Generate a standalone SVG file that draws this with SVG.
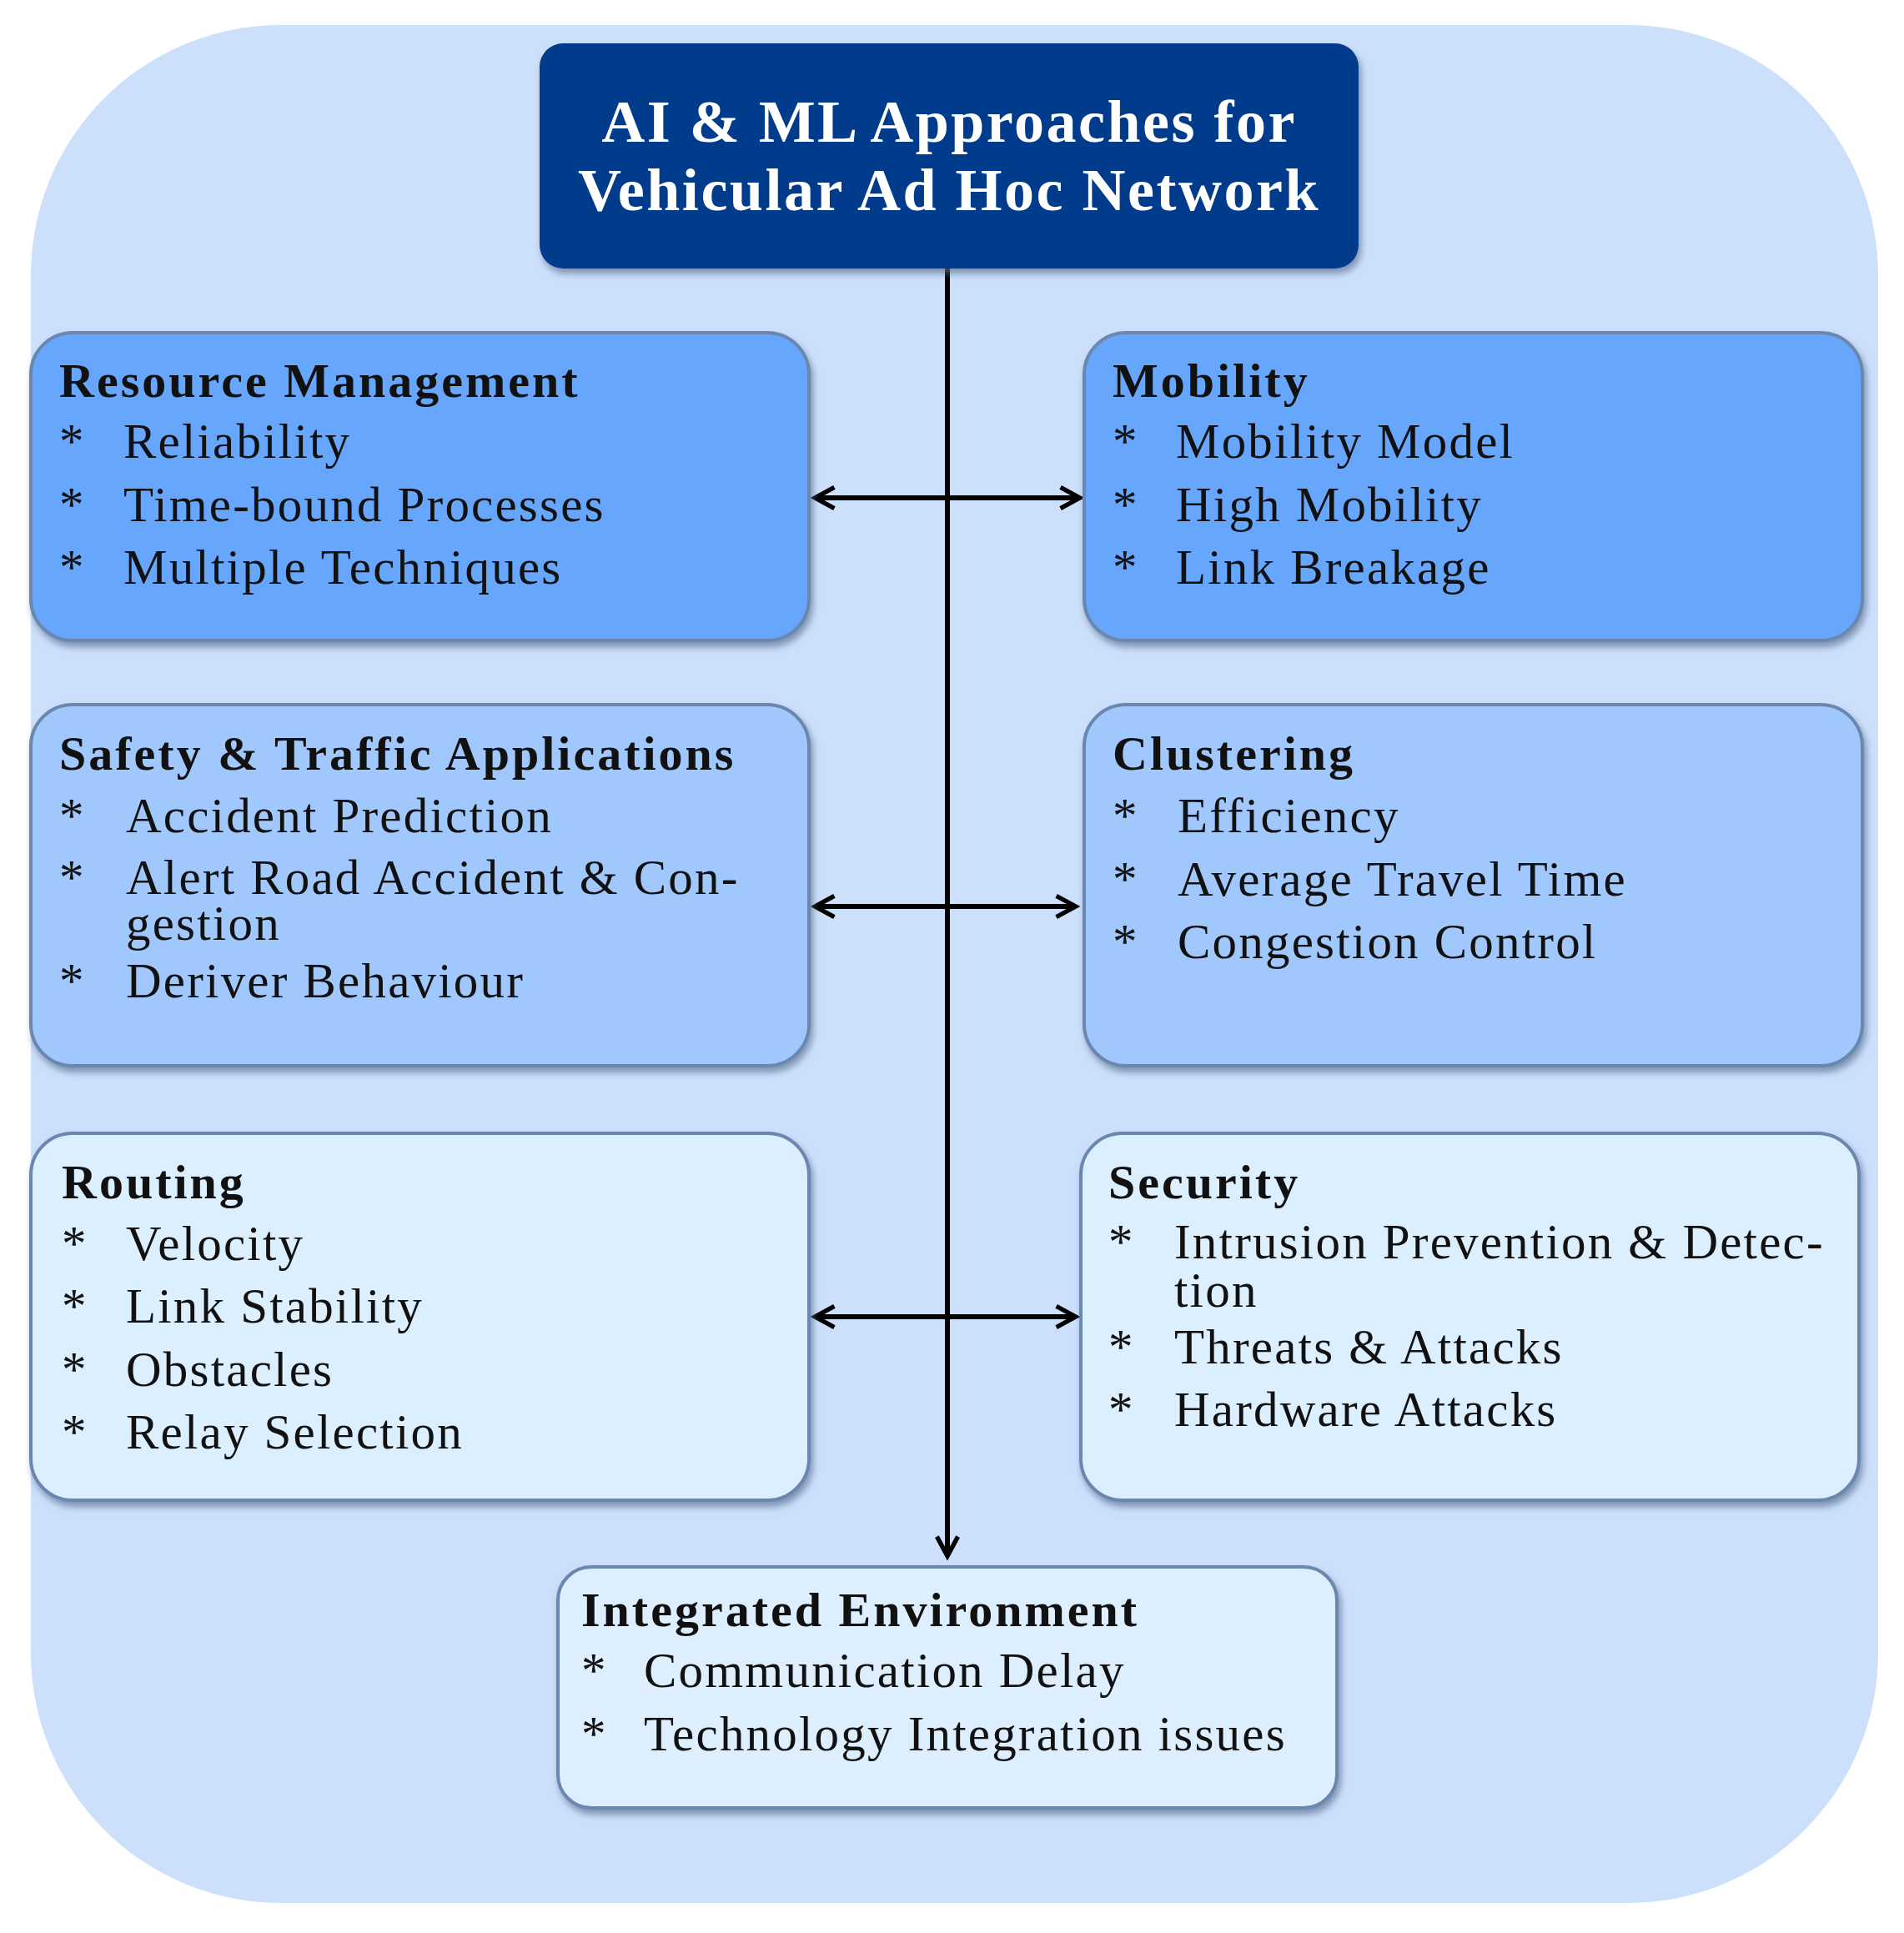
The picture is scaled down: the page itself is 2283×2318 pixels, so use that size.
<svg xmlns="http://www.w3.org/2000/svg" width="2283" height="2318" viewBox="0 0 2283 2318">
<style>
text{font-family:"Liberation Serif","Times New Roman",serif;fill:#111}
.h{font-weight:bold;font-size:58px;letter-spacing:3px}
.i{font-size:59px;letter-spacing:2.2px}
.t{font-weight:bold;font-size:72px;letter-spacing:2.5px;fill:#fff}
.box{stroke:#6a87b0;stroke-width:4}
</style>
<defs>
<filter id="sh" x="-5%" y="-5%" width="112%" height="115%"><feDropShadow dx="3" dy="6" stdDeviation="4" flood-color="#5a6f90" flood-opacity="0.7"/></filter>
<marker id="ah" viewBox="0 0 20 20" refX="17" refY="10" markerWidth="36" markerHeight="36" orient="auto-start-reverse" markerUnits="userSpaceOnUse"><path d="M4,3 L17,10 L4,17" fill="none" stroke="#000" stroke-width="3"/></marker>
</defs>
<rect width="2283" height="2318" fill="#fff"/>
<rect x="37" y="30" width="2215" height="2252" rx="300" fill="#cce0fc"/>
<g id="connectors" stroke="#000" stroke-width="6" fill="none">
<line x1="1136" y1="322" x2="1136" y2="1866" marker-end="url(#ah)"/>
<line x1="977" y1="597" x2="1295" y2="597" marker-start="url(#ah)" marker-end="url(#ah)"/>
<line x1="977" y1="1087" x2="1290" y2="1087" marker-start="url(#ah)" marker-end="url(#ah)"/>
<line x1="977" y1="1579" x2="1290" y2="1579" marker-start="url(#ah)" marker-end="url(#ah)"/>
</g>
<g id="title"><rect x="647" y="52" width="982" height="270" rx="28" fill="#003a8c" filter="url(#sh)"/>
<text class="t" x="1138" y="170" text-anchor="middle">AI &amp; ML Approaches for</text>
<text class="t" x="1138" y="252" text-anchor="middle">Vehicular Ad Hoc Network</text></g>
<g id="resource"><rect class="box" x="37" y="399" width="933" height="369" rx="50" fill="#66a6fc" filter="url(#sh)"/>
<text class="h" x="71" y="476">Resource Management</text>
<text class="i" x="71" y="549">*</text><text class="i" x="148" y="549">Reliability</text>
<text class="i" x="71" y="625">*</text><text class="i" x="148" y="625">Time-bound Processes</text>
<text class="i" x="71" y="700">*</text><text class="i" x="148" y="700">Multiple Techniques</text></g>
<g id="mobility"><rect class="box" x="1300" y="399" width="933" height="369" rx="50" fill="#66a6fc" filter="url(#sh)"/>
<text class="h" x="1334" y="476">Mobility</text>
<text class="i" x="1334" y="549">*</text><text class="i" x="1410" y="549">Mobility Model</text>
<text class="i" x="1334" y="625">*</text><text class="i" x="1410" y="625">High Mobility</text>
<text class="i" x="1334" y="700">*</text><text class="i" x="1410" y="700">Link Breakage</text></g>
<g id="safety"><rect class="box" x="37" y="845" width="933" height="433" rx="50" fill="#a0c8fc" filter="url(#sh)"/>
<text class="h" x="71" y="923">Safety &amp; Traffic Applications</text>
<text class="i" x="71" y="998">*</text><text class="i" x="151" y="998">Accident Prediction</text>
<text class="i" x="71" y="1072">*</text><text class="i" x="151" y="1072">Alert Road Accident &amp; Con-</text>
<text class="i" x="151" y="1127">gestion</text>
<text class="i" x="71" y="1196">*</text><text class="i" x="151" y="1196">Deriver Behaviour</text></g>
<g id="clustering"><rect class="box" x="1300" y="845" width="933" height="433" rx="50" fill="#a0c8fc" filter="url(#sh)"/>
<text class="h" x="1334" y="923">Clustering</text>
<text class="i" x="1334" y="998">*</text><text class="i" x="1412" y="998">Efficiency</text>
<text class="i" x="1334" y="1074">*</text><text class="i" x="1412" y="1074">Average Travel Time</text>
<text class="i" x="1334" y="1149">*</text><text class="i" x="1412" y="1149">Congestion Control</text></g>
<g id="routing"><rect class="box" x="37" y="1359" width="933" height="440" rx="50" fill="#dcefff" filter="url(#sh)"/>
<text class="h" x="74" y="1437">Routing</text>
<text class="i" x="74" y="1511">*</text><text class="i" x="151" y="1511">Velocity</text>
<text class="i" x="74" y="1586">*</text><text class="i" x="151" y="1586">Link Stability</text>
<text class="i" x="74" y="1662">*</text><text class="i" x="151" y="1662">Obstacles</text>
<text class="i" x="74" y="1737">*</text><text class="i" x="151" y="1737">Relay Selection</text></g>
<g id="security"><rect class="box" x="1296" y="1359" width="933" height="440" rx="50" fill="#dcefff" filter="url(#sh)"/>
<text class="h" x="1329" y="1437">Security</text>
<text class="i" x="1329" y="1509">*</text><text class="i" x="1408" y="1509">Intrusion Prevention &amp; Detec-</text>
<text class="i" x="1408" y="1567">tion</text>
<text class="i" x="1329" y="1635">*</text><text class="i" x="1408" y="1635">Threats &amp; Attacks</text>
<text class="i" x="1329" y="1710">*</text><text class="i" x="1408" y="1710">Hardware Attacks</text></g>
<g id="integrated"><rect class="box" x="669" y="1879" width="934" height="289" rx="40" fill="#ddeeff" filter="url(#sh)"/>
<text class="h" x="697" y="1950">Integrated Environment</text>
<text class="i" x="697" y="2023">*</text><text class="i" x="772" y="2023">Communication Delay</text>
<text class="i" x="697" y="2099">*</text><text class="i" x="772" y="2099">Technology Integration issues</text></g>
</svg>
